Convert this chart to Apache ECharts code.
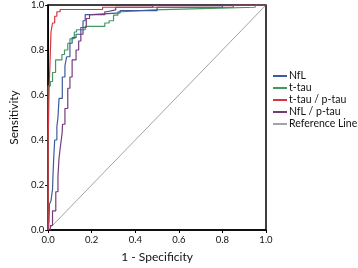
<!DOCTYPE html>
<html>
<head>
<meta charset="utf-8">
<script src="https://cdn.jsdelivr.net/npm/echarts@6/dist/echarts.min.js"></script>
<style>
  html, body { margin: 0; padding: 0; background: #fff; }
  #chart { width: 358px; height: 268px; }
</style>
</head>
<body>
<div id="chart"></div>
<script>
// each point: [1 - specificity, sensitivity] where the curve steps up
const nflPoints = [
  [0, 0], [0.004, 0.04], [0.006, 0.115], [0.013, 0.13], [0.02, 0.18], [0.022, 0.24],
  [0.026, 0.33], [0.03, 0.40], [0.04, 0.46], [0.045, 0.50], [0.05, 0.585], [0.065, 0.68],
  [0.077, 0.73], [0.085, 0.77], [0.1, 0.83], [0.11, 0.855], [0.128, 0.87], [0.15, 0.90],
  [0.16, 0.93], [0.17, 0.957], [0.2, 0.965], [0.33, 0.975], [0.5, 0.99], [0.8, 1.0], [1, 1]
]
const ttauPoints = [
  [0, 0], [0, 0.64], [0.01, 0.66], [0.02, 0.70], [0.034, 0.756], [0.063, 0.78], [0.075, 0.80],
  [0.09, 0.83], [0.1, 0.85], [0.12, 0.88], [0.13, 0.89], [0.17, 0.905], [0.26, 0.92],
  [0.28, 0.93], [0.30, 0.955], [0.32, 0.97], [0.34, 0.978], [0.48, 0.985], [0.75, 0.99],
  [0.95, 1.0], [1, 1]
]
const ratioTauPoints = [
  [0, 0], [0, 0.40], [0.004, 0.62], [0.008, 0.73], [0.013, 0.88], [0.02, 0.92],
  [0.03, 0.95], [0.04, 0.97], [0.055, 0.98], [0.25, 0.99], [0.85, 1.0], [1, 1]
]
const nflPtauPoints = [
  [0, 0], [0.01, 0.02], [0.02, 0.085], [0.035, 0.17], [0.045, 0.24], [0.05, 0.32],
  [0.056, 0.37], [0.064, 0.43], [0.066, 0.47], [0.077, 0.54], [0.09, 0.63], [0.1, 0.68],
  [0.11, 0.756], [0.128, 0.80], [0.14, 0.84], [0.15, 0.87], [0.16, 0.90], [0.175, 0.94],
  [0.19, 0.957], [0.26, 0.97], [0.27, 0.978], [0.31, 0.99], [0.48, 1.0], [1, 1]
]
const referencePoints = [[0, 0], [1, 1]]

const seriesNames = ['NfL', 't-tau', 't-tau / p-tau', 'NfL / p-tau', 'Reference Line']
const seriesColors = ['#3b5b9c', '#3f9a5e', '#d8333f', '#763b7c', '#a3a3a3']

const chart = echarts.init(document.getElementById('chart'), null, { renderer: 'canvas' })

const FONT = 'Lato'

const axisCommon = {
  type: 'value',
  min: 0, max: 1, interval: 0.2,
  nameLocation: 'middle',
  nameTextStyle: { color: '#111', fontSize: 12, fontFamily: FONT },
  axisLine: { show: true, lineStyle: { color: '#000', width: 1.5 } },
  axisTick: { show: true, length: 3, lineStyle: { color: '#000', width: 1 } },
  axisLabel: { color: '#111', fontSize: 9.5, fontFamily: FONT, formatter: v => v.toFixed(1) },
  splitLine: { show: false },
}

function stepSeries(name, data, color) {
  return {
    name, type: 'line', data, step: 'end',
    symbol: 'none', lineStyle: { color, width: 1.2 }, itemStyle: { color },
  }
}

chart.setOption({
  animation: false,
  backgroundColor: '#fff',
  grid: {
    left: 32, top: 3, width: 234, height: 234,
    show: true, borderColor: '#000', borderWidth: 1.5, backgroundColor: 'transparent',
  },
  xAxis: { ...axisCommon, name: '1 - Specificity', nameGap: 21,
    axisLabel: { ...axisCommon.axisLabel, margin: 5 } },
  yAxis: { ...axisCommon, name: 'Sensitivity', nameGap: 23,
    axisLabel: { ...axisCommon.axisLabel, margin: 4 } },
  legend: {
    orient: 'vertical', left: 273, top: 70, padding: 0,
    itemWidth: 14, itemHeight: 2, itemGap: 0,
    textStyle: { color: '#111', fontSize: 10.5, fontFamily: FONT, lineHeight: 12, padding: [0, 0, 0, -3] },
    data: seriesNames.map(n => ({ name: n, icon: 'rect' })),
  },
  series: [
    { name: 'Reference Line', type: 'line', data: referencePoints, symbol: 'none',
      lineStyle: { color: seriesColors[4], width: 1 }, itemStyle: { color: seriesColors[4] } },
    stepSeries('t-tau', ttauPoints, seriesColors[1]),
    stepSeries('NfL', nflPoints, seriesColors[0]),
    stepSeries('NfL / p-tau', nflPtauPoints, seriesColors[3]),
    stepSeries('t-tau / p-tau', ratioTauPoints, seriesColors[2]),
  ],
})
</script>
</body>
</html>
